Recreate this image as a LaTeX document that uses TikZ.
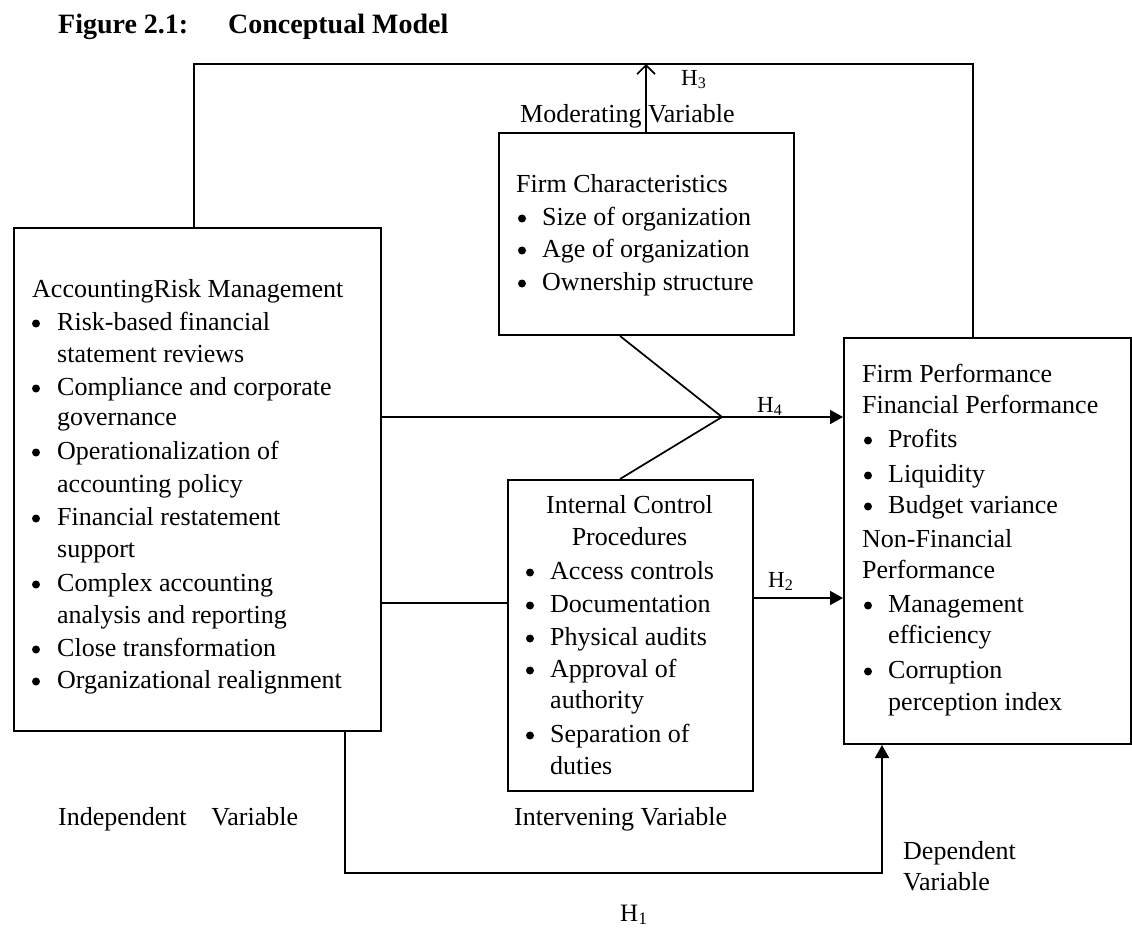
\documentclass[tikz,border=0pt]{standalone}
\usepackage{fontspec}
\setmainfont{Liberation Serif}
\usetikzlibrary{arrows.meta}
\begin{document}
\begin{tikzpicture}[x=1pt,y=-1pt,
  box/.style={draw,line width=2pt,inner sep=0pt,anchor=north west},
  txt/.style={anchor=base west,inner sep=0pt,font=\fontsize{26}{32}\selectfont},
  ctxt/.style={anchor=base,inner sep=0pt,font=\fontsize{26}{32}\selectfont},
  bul/.style={circle,fill,inner sep=0pt,minimum size=8pt},
  hlbl/.style={anchor=base west,inner sep=0pt,font=\fontsize{23}{26}\selectfont},
  ttl/.style={anchor=base west,inner sep=0pt,font=\fontsize{28}{32}\selectfont\bfseries},
  ln/.style={line width=1.7pt},
  arr/.style={ln,-{Triangle[length=13pt,width=14pt]}},
  oarr/.style={ln,-{Straight Barb[length=9pt,width=18pt,line width=1.7pt]}}]
\useasboundingbox (0,0) rectangle (1132,930);

% title
\node[ttl] (t1) at (58,33) {Figure 2.1:};
\node[ttl] (t2) at (228,33) {Conceptual Model};

% boxes
\node[box,minimum width=367pt,minimum height=503pt] (L) at (13,227) {};
\node[box,minimum width=295pt,minimum height=202pt] (M) at (498,132) {};
\node[box,minimum width=245pt,minimum height=311pt] (I) at (507,479) {};
\node[box,minimum width=287pt,minimum height=406pt] (R) at (843,337) {};

% left box text
\node[txt] (lh) at (32,297) {AccountingRisk Management};
\foreach \y/\t [count=\i] in {330/Risk-based financial,362/statement reviews,395/Compliance and corporate,425/governance,459/Operationalization of,492/accounting policy,525/Financial restatement,557/support,591/Complex accounting,623/analysis and reporting,656/Close transformation,688/Organizational realignment}
  \node[txt] (lt\i) at (57,\y) {\t};
\foreach \y [count=\i] in {330,395,459,525,591,656,688}
  \node[bul] (lb\i) at (36,\y-6.5) {};

% moderating box text
\node[txt] (mh) at (516,192) {Firm Characteristics};
\foreach \y/\t [count=\i] in {225/Size of organization,257/Age of organization,290/Ownership structure}{
  \node[txt] (mt\i) at (542,\y) {\t};
  \node[bul] (mb\i) at (522,\y-6.5) {};
}

% internal box text
\node[ctxt] (ih1) at (629.5,513) {Internal Control};
\node[ctxt] (ih2) at (629.5,545) {Procedures};
\foreach \y/\t [count=\i] in {579/Access controls,612/Documentation,645/Physical audits,677/Approval of,708/authority,742/Separation of,774/duties}
  \node[txt] (it\i) at (550,\y) {\t};
\foreach \y [count=\i] in {579,612,645,677,742}
  \node[bul] (ib\i) at (530,\y-6.5) {};

% right box text
\node[txt] (rh1) at (862,382) {Firm Performance};
\node[txt] (rh2) at (862,413) {Financial Performance};
\node[txt] (rh3) at (862,547) {Non-Financial};
\node[txt] (rh4) at (862,578) {Performance};
\foreach \y/\t [count=\i] in {447/Profits,482/Liquidity,513/Budget variance,612/Management,643/efficiency,678/Corruption,710/perception index}
  \node[txt] (rt\i) at (888,\y) {\t};
\foreach \y [count=\i] in {447,482,513,612,678}
  \node[bul] (rb\i) at (868,\y-6.5) {};

% outside labels
\node[txt] (mv) at (520,122) {Moderating Variable};
\node[txt] (iv) at (58,825) {Independent\hspace{0.7em} Variable};
\node[txt] (itv) at (514,825) {Intervening Variable};
\node[txt] (dv1) at (903,859) {Dependent};
\node[txt] (dv2) at (903,890) {Variable};

% coordinates
\coordinate (tl) at (194,64);
\coordinate (tr) at (973,64);
\coordinate (h3) at (646,64);
\coordinate (J) at (722,417);
\coordinate (md) at (620,0);
\coordinate (c2) at (0,603);
\coordinate (c3) at (0,598);
\coordinate (b1) at (345,873);
\coordinate (b2) at (882,873);

% connectors
\draw[ln] (tl |- L.north) -- (tl) -- (tr) -- (tr |- R.north);
\draw[oarr] (h3 |- M.north) -- (h3);
\draw[ln] (J -| L.east) -- (J);
\draw[arr] (J) -- (J -| R.west);
\draw[ln] (md |- M.south) -- (J);
\draw[ln] (md |- I.north) -- (J);
\draw[ln] (c2 -| L.east) -- (c2 -| I.west);
\draw[arr] (c3 -| I.east) -- (c3 -| R.west);
\draw[arr] (b1 |- L.south) -- (b1) -- (b2) -- (b2 |- R.south);

% hypothesis labels
\node[hlbl] (H3) at (681,85) {H\textsubscript{3}};
\node[hlbl] (H4) at (757,412) {H\textsubscript{4}};
\node[hlbl] (H2) at (768,587) {H\textsubscript{2}};
\node[hlbl,font=\fontsize{25}{28}\selectfont] (H1) at (620,921) {H\textsubscript{1}};
\end{tikzpicture}
\end{document}
